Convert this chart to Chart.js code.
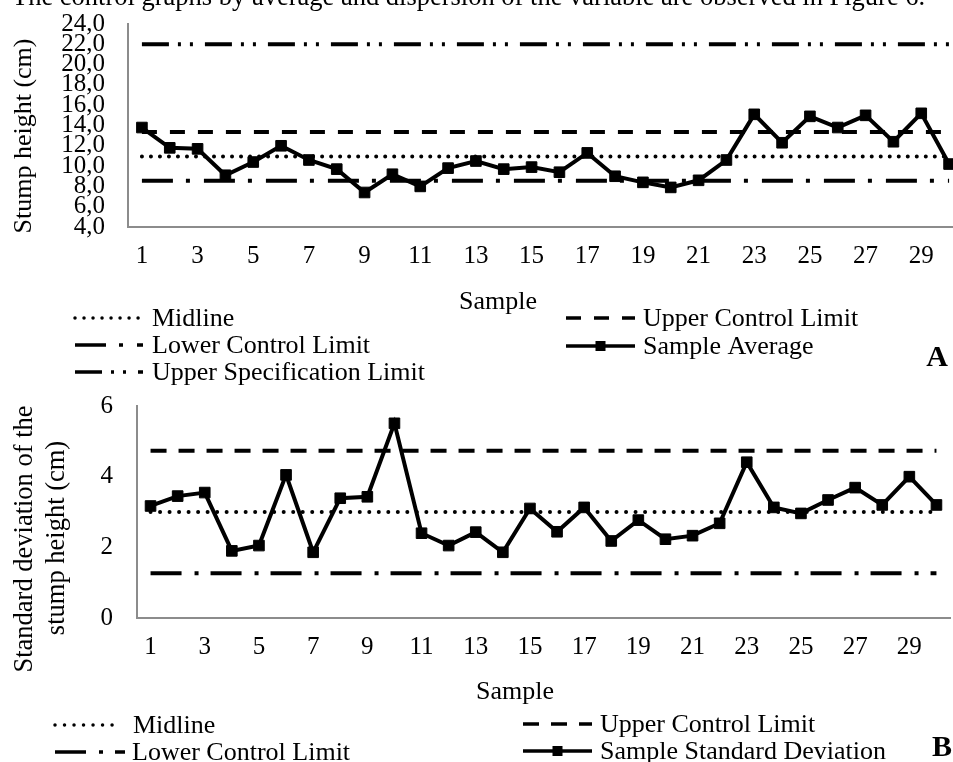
<!DOCTYPE html>
<html>
<head>
<meta charset="utf-8">
<script src="https://cdn.jsdelivr.net/npm/chart.js@4.4.1/dist/chart.umd.min.js"></script>
<style>
  html, body { margin: 0; padding: 0; background: #fff; width: 953px; height: 762px; overflow: hidden; }
  #wrap { position: relative; width: 953px; height: 762px; overflow: hidden; }
  canvas { position: absolute; left: 0; }
  #chartA { top: -14px; }
  #chartB { top: 367px; }
</style>
</head>
<body>
<div id="wrap">
  <canvas id="chartA" width="990" height="404"></canvas>
  <canvas id="chartB" width="990" height="395"></canvas>
</div>
<script>
// samples 1..30
const categories = ['1', '2', '3', '4', '5', '6', '7', '8', '9', '10',
  '11', '12', '13', '14', '15', '16', '17', '18', '19', '20',
  '21', '22', '23', '24', '25', '26', '27', '28', '29', '30'];
const xTickLabels = ['1', '3', '5', '7', '9', '11', '13', '15', '17', '19', '21', '23', '25', '27', '29'];

// A: sample average of stump height (cm)
const sampleAverage = [13.8, 11.8, 11.7, 9.1, 10.4, 12.0, 10.6, 9.7, 7.4, 9.2,
  8.0, 9.8, 10.5, 9.7, 9.9, 9.4, 11.3, 9.0, 8.4, 7.9,
  8.6, 10.6, 15.1, 12.3, 14.9, 13.8, 15.0, 12.4, 15.2, 10.2];
const avgMidline = 10.95;
const avgUCL = 13.35;
const avgLCL = 8.55;
const avgUSL = 22.0;
const avgTicks = [4, 6, 8, 10, 12, 14, 16, 18, 20, 22, 24];

// B: sample standard deviation (cm)
const sampleStdDev = [3.17, 3.45, 3.55, 1.90, 2.05, 4.05, 1.86, 3.39, 3.43, 5.51,
  2.40, 2.05, 2.43, 1.86, 3.10, 2.44, 3.13, 2.18, 2.77, 2.23,
  2.33, 2.68, 4.41, 3.13, 2.96, 3.34, 3.69, 3.20, 4.00, 3.20];
const sdMidline = 3.0;
const sdUCL = 4.73;
const sdLCL = 1.27;
const sdTicks = [0, 2, 4, 6];

const FONT = '"Liberation Serif", "Times New Roman", serif';
Chart.defaults.font.family = FONT;
Chart.defaults.font.size = 25;
Chart.defaults.color = '#000';

function flat(value) {
  // horizontal limit line from the first to the last sample
  return [{ x: categories[0], y: value }, { x: categories[categories.length - 1], y: value }];
}

function limitSet(label, value, dash, cap) {
  return {
    label: label,
    data: flat(value),
    borderColor: '#000',
    borderWidth: 4,
    borderDash: dash,
    borderCapStyle: cap || 'butt',
    pointRadius: 0,
    fill: false,
    order: 2
  };
}

function seriesSet(label, values) {
  return {
    label: label,
    data: values,
    borderColor: '#000',
    borderWidth: 4,
    pointStyle: 'rect',
    pointRadius: 7.5,
    pointBorderWidth: 1,
    pointBackgroundColor: '#000',
    pointBorderColor: '#000',
    fill: false,
    order: 0
  };
}

// draws axis titles, legend and panel letters
const extras = {
  id: 'extras',
  afterDraw(chart, args, opts) {
    const ctx = chart.ctx;
    (opts.texts || []).forEach(t => {
      ctx.save();
      ctx.font = t.font;
      ctx.fillStyle = '#000';
      ctx.textAlign = t.align || 'center';
      ctx.textBaseline = t.baseline || 'middle';
      ctx.translate(t.x, t.y);
      if (t.rotate) ctx.rotate(t.rotate);
      ctx.fillText(t.text, 0, 0);
      ctx.restore();
    });
    (opts.legend || []).forEach(item => {
      const ds = chart.data.datasets[item.dataset];
      ctx.save();
      ctx.strokeStyle = ds.borderColor;
      ctx.lineWidth = 3.5;
      ctx.lineCap = ds.borderCapStyle || 'butt';
      ctx.setLineDash(ds.borderDash || []);
      ctx.beginPath();
      ctx.moveTo(item.x, item.y);
      ctx.lineTo(item.x + item.w, item.y);
      ctx.stroke();
      if (ds.pointRadius) {
        ctx.fillStyle = ds.pointBackgroundColor;
        ctx.fillRect(item.x + item.w / 2 - 5, item.y - 5, 10, 10);
      }
      ctx.font = '26px ' + FONT;
      ctx.fillStyle = '#000';
      ctx.textAlign = 'left';
      ctx.textBaseline = 'middle';
      ctx.fillText(ds.label, item.x + item.w + item.gap, item.y + 1);
      ctx.restore();
    });
  }
};

function makeScales(ticks, yMin, yMax, fmt, yWidth, xHeight, yPad) {
  return {
    x: {
      type: 'category',
      offset: true,
      grid: { display: false, drawTicks: false },
      border: { color: '#8c8c8c', width: 2 },
      ticks: {
        autoSkip: false,
        maxRotation: 0,
        padding: 14,
        callback: function (v, i) {
          const lab = categories[i];
          return xTickLabels.includes(lab) ? lab : '';
        }
      },
      afterFit: axis => { axis.height = xHeight; }
    },
    y: {
      min: yMin,
      max: yMax,
      grid: { display: false, drawTicks: false },
      border: { color: '#8c8c8c', width: 2 },
      ticks: { autoSkip: false, padding: yPad, callback: fmt },
      afterBuildTicks: axis => { axis.ticks = ticks.map(v => ({ value: v })); },
      afterFit: axis => { axis.width = yWidth; }
    }
  };
}

// chart A canvas sits 14px above the page top
new Chart(document.getElementById('chartA'), {
  type: 'line',
  data: {
    labels: categories,
    datasets: [
      limitSet('Midline', avgMidline, [0.01, 9], 'round'),
      limitSet('Upper Control Limit', avgUCL, [15, 13]),
      limitSet('Lower Control Limit', avgLCL, [31, 13, 4, 14]),
      seriesSet('Sample Average', sampleAverage),
      limitSet('Upper Specification Limit', avgUSL, [27, 9, 3, 9, 3, 12])
    ]
  },
  options: {
    responsive: false,
    animation: false,
    devicePixelRatio: 1,
    events: [],
    layout: { padding: { left: 0, top: 0, right: 27, bottom: 0 } },
    plugins: {
      legend: { display: false },
      tooltip: { enabled: false },
      extras: {
        texts: [
          { text: 'The control graphs by average and dispersion of the variable are observed in Figure 6.',
            x: 12, y: 19, align: 'left', baseline: 'alphabetic', font: '26.5px ' + FONT },
          { text: 'Stump height (cm)', x: 24, y: 150, rotate: -Math.PI / 2, font: '26px ' + FONT },
          { text: 'Sample', x: 498, y: 316, font: '26px ' + FONT },
          { text: 'A', x: 937, y: 372, font: 'bold 30px ' + FONT }
        ],
        legend: [
          { dataset: 0, x: 75, y: 332, w: 68, gap: 9 },
          { dataset: 1, x: 566, y: 332, w: 69, gap: 8 },
          { dataset: 2, x: 75, y: 359, w: 68, gap: 9 },
          { dataset: 3, x: 566, y: 360, w: 69, gap: 8 },
          { dataset: 4, x: 75, y: 386, w: 68, gap: 9 }
        ]
      }
    },
    scales: makeScales(avgTicks, 4, 24, v => Number(v).toFixed(1).replace('.', ','), 128, 163, 23)
  },
  plugins: [extras]
});

// chart B canvas starts at page y = 367
new Chart(document.getElementById('chartB'), {
  type: 'line',
  data: {
    labels: categories,
    datasets: [
      limitSet('Midline', sdMidline, [0.01, 9.5], 'round'),
      limitSet('Upper Control Limit', sdUCL, [16, 12]),
      limitSet('Lower Control Limit', sdLCL, [31, 13, 4, 12]),
      seriesSet('Sample Standard Deviation', sampleStdDev)
    ]
  },
  options: {
    responsive: false,
    animation: false,
    devicePixelRatio: 1,
    events: [],
    layout: { padding: { left: 0, top: 0, right: 40, bottom: 0 } },
    plugins: {
      legend: { display: false },
      tooltip: { enabled: false },
      extras: {
        texts: [
          { text: 'Standard deviation of the', x: 25, y: 172, rotate: -Math.PI / 2, font: '26.5px ' + FONT },
          { text: 'stump height (cm)', x: 57, y: 171, rotate: -Math.PI / 2, font: '26.5px ' + FONT },
          { text: 'Sample', x: 515, y: 325, font: '26px ' + FONT },
          { text: 'B', x: 942, y: 381, font: 'bold 30px ' + FONT }
        ],
        legend: [
          { dataset: 0, x: 55, y: 358, w: 62, gap: 16 },
          { dataset: 1, x: 523, y: 357, w: 69, gap: 8 },
          { dataset: 2, x: 55, y: 385, w: 70, gap: 7 },
          { dataset: 3, x: 523, y: 384, w: 69, gap: 8 }
        ]
      }
    },
    scales: makeScales(sdTicks, 0, 6, v => String(v), 137, 144, 24)
  },
  plugins: [extras]
});
</script>
</body>
</html>
